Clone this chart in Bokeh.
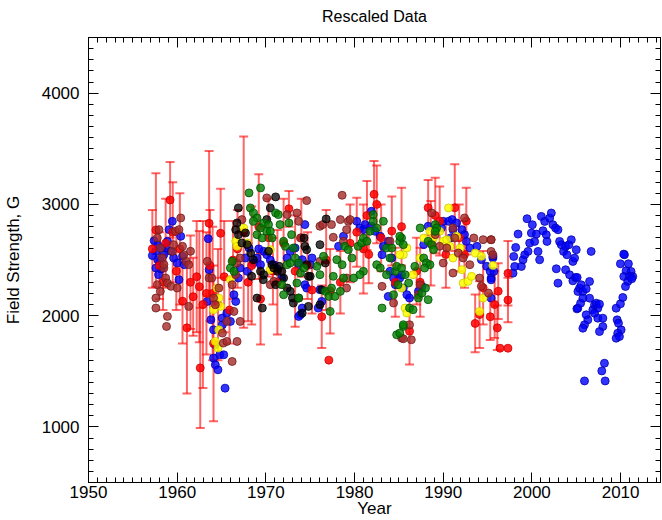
from bokeh.plotting import figure
from bokeh.models import (ColumnDataSource, Whisker, TeeHead, LinearAxis,
                          SingleIntervalTicker, Range1d, CustomJSTickFormatter)
from bokeh.embed import file_html
from bokeh.resources import INLINE

# ---------------- data ----------------
red_year = [1957.2, 1957.6, 1958.0, 1958.4, 1958.7, 1959.2, 1959.5, 1959.9, 1960.3, 1960.6,
            1961.1, 1961.5, 1961.8, 1962.2, 1962.5, 1962.6, 1962.9, 1963.3, 1963.6, 1963.7,
            1964.0, 1964.1, 1964.6, 1964.9, 1965.3, 1965.9, 1966.3, 1966.8, 1967.5, 1968.0,
            1968.4, 1969.2, 1969.4, 1970.3, 1970.8, 1971.3, 1972.0, 1972.6, 1973.3, 1974.0,
            1974.7, 1975.2, 1976.3, 1976.8, 1977.25, 1978.4, 1979.5, 1980.25, 1981.0, 1981.4,
            1981.6, 1982.2, 1982.5, 1983.0, 1984.2, 1984.6, 1985.3, 1986.2, 1987.0, 1987.4,
            1988.3, 1988.6, 1989.1, 1989.6, 1990.3, 1991.3, 1991.8, 1992.4, 1992.6, 1993.6,
            1994.1, 1994.5, 1995.3, 1995.8, 1996.1, 1996.2, 1997.3, 1997.3]
red_val = [2600, 2770, 2450, 2300, 2650, 3040, 2750, 2400, 2600, 2130,
           1890, 2300, 2170, 2350, 2260, 1530, 2100, 2200, 2830, 2450,
           2200, 1750, 2100, 2740, 2350, 2050, 2500, 2600, 2750, 2300,
           2450, 2800, 2150, 2700, 2400, 2300, 2650, 2960, 2400, 2700,
           2450, 2230, 1990, 2500, 2220, 2300, 2650, 2750, 2600, 2900,
           2550, 3090, 3000, 2700, 2760, 2300, 2800, 1860, 2400, 2300,
           2970, 2650, 2900, 2850, 2550, 2970, 2700, 2550, 2850, 1930,
           2010, 2250, 1990, 2100, 1890, 2220, 2380, 2140]
red_err = [350, 510, 300, 250, 400, 340, 450, 350, 500, 380,
           590, 420, 350, 500, 500, 540, 750, 550, 650, 500,
           600, 700, 500, 400, 500, 300, 350, 350, 860, 350,
           530, 470, 410, 350, 300, 470, 400, 160, 500, 350,
           300, 210, 280, 450, 380, 280, 350, 310, 400, 310,
           260, 300, 350, 300, 310, 310, 350, 300, 300, 310,
           250, 380, 340, 310, 300, 390, 300, 300, 300, 260,
           300, 330, 210, 300, 200, 250, 290, 200]
red_single_year = [1977.1, 1996.4, 1997.3]
red_single_val = [1600, 1707, 1707]

blue_year = [1957.4, 1957.8, 1957.6, 1957.6, 1957.9, 1958.1, 1958.5, 1958.7, 1958.9, 1959.1,
             1959.45, 1959.6, 1960.0, 1960.2, 1960.4, 1960.8, 1960.6, 1957.8, 1959.3, 1958.3,
             1957.2, 1958.2, 1963.5, 1963.6, 1963.4, 1963.8, 1964.1, 1964.3, 1964.1, 1964.3,
             1964.6, 1964.8, 1965.1, 1965.4, 1965.25, 1965.07, 1966.0, 1965.6, 1966.6, 1966.4,
             1967.1, 1967.7, 1968.1, 1968.6, 1969.0, 1969.4, 1969.75, 1970.1, 1970.9, 1971.8,
             1972.4, 1972.75, 1973.3, 1973.7, 1974.1, 1974.4, 1974.4, 1974.6, 1974.1, 1973.9,
             1973.7, 1975.0, 1966.9, 1967.9, 1969.2, 1970.5, 1971.3, 1975.2, 1976.1, 1975.9,
             1976.3, 1978.2, 1978.75, 1980.25, 1980.6, 1981.0, 1981.2, 1981.9, 1981.9, 1982.3,
             1982.9, 1983.25, 1983.8, 1984.2, 1984.0, 1984.4, 1984.6, 1983.8, 1985.1, 1985.3,
             1983.1, 1985.5, 1985.9, 1986.2, 1987.2, 1987.6, 1987.8, 1988.3, 1989.8, 1990.0,
             1990.6, 1991.0, 1991.1, 1990.8, 1991.5, 1992.1, 1992.4, 1992.6, 1993.0, 1993.8,
             1994.3, 1994.9, 1995.3, 1995.4, 1995.6, 1995.6, 1995.7, 1995.4, 1995.4,
             1997.87, 1998.06, 1997.95, 1998.17, 1998.44, 1998.81, 1999.0, 1999.19, 1999.45, 1999.56,
             1999.75, 1999.94, 2000.05, 2000.31, 2000.5, 2000.69, 2000.87, 2001.06, 2001.25, 2001.44,
             2001.62, 2001.7, 2002.0, 2002.19, 2002.37, 2002.67, 2002.94, 2002.75, 2003.12, 2003.31,
             2003.57, 2003.8, 2003.95, 2004.17, 2004.44, 2004.62, 2002.94, 2003.8, 2004.25, 2004.62,
             2004.92, 2005.19, 2005.07, 2005.0, 2004.81, 2005.1, 2005.37, 2005.56, 2005.75, 2006.12,
             2006.5, 2006.68, 2005.18, 2005.49, 2005.75, 2006.5, 2006.12, 2006.31, 2005.93, 2005.75,
             2006.87, 2007.06, 2007.25, 2007.43, 2007.62, 2007.06, 2007.43, 2008.0, 2008.0, 2007.62,
             2008.18, 2007.88, 2008.26, 2005.93, 2009.5, 2009.98, 2010.25, 2009.61, 2009.76, 2010.06,
             2009.68, 2009.5, 2009.87, 2010.43, 2010.36, 2009.98, 2010.88, 2010.62, 2011.18, 2010.36,
             2011.0, 2011.37, 2010.81, 2010.55, 2011.26]
blue_val = [2674, 2638, 2578, 2428, 2368, 2488, 2548, 2608, 2668, 2773,
            2848, 2518, 2473, 2323, 2713, 2458, 2533, 2503, 2578, 2608,
            2540, 2420, 2692, 2413, 2128, 1963, 1873, 1738, 1618, 1558,
            1513, 1648, 1918, 1348, 1648, 1978, 1948, 2023, 2128, 2188,
            2428, 2518, 2608, 2473, 2518, 2458, 2578, 2548, 2458, 2338,
            2518, 2578, 2608, 2458, 2503, 2818, 2278, 2248, 2068, 2008,
            1993, 2458, 2338, 2398, 2600, 2500, 2420, 2518, 2233, 2068,
            2128, 2623, 2713, 2848, 2788, 2773, 2818, 2938, 2803, 2758,
            2713, 2623, 2668, 2518, 2398, 2338, 2278, 2173, 2338, 2368,
            2548, 2248, 2188, 2158, 2218, 2263, 2638, 2803, 2788, 2848,
            2848, 2863, 2773, 2698, 2833, 2773, 2728, 2668, 2608, 2623,
            2503, 2443, 2398, 2338, 2518, 2532, 2397, 2322, 2157,
            2382, 2442, 2532, 2613, 2733, 2442, 2502, 2547, 2871, 2577,
            2652, 2742, 2817, 2667, 2733, 2577, 2502, 2892, 2763, 2847,
            2727, 2667, 2877, 2922, 2817, 2787, 2772, 2421, 2667, 2637,
            2577, 2622, 2547, 2637, 2682, 2487, 2292, 2412, 2367, 2313,
            2343, 2217, 2061, 2592, 2517, 2343, 2247, 2277, 2217, 2241,
            2307, 2577, 2067, 2112, 2157, 2157, 2007, 1962, 1917, 1887,
            2052, 2097, 2112, 2067, 2103, 2022, 1977, 1977, 1902, 1857,
            1572, 1503, 1413, 1413, 2067, 2106, 2163, 1962, 1932, 1872,
            1842, 1797, 1812, 2547, 2553, 2466, 2466, 2403, 2397, 2352,
            2352, 2352, 2307, 2262, 2331]

brown_year = [1957.76, 1957.95, 1958.1, 1958.3, 1958.5, 1958.7, 1958.9, 1958.9, 1958.8, 1957.6,
              1957.6, 1957.76, 1958.1, 1959.3, 1959.45, 1959.6, 1959.8, 1960.2, 1960.4, 1960.6,
              1960.75, 1961.0, 1961.3, 1961.5, 1961.3, 1963.4, 1963.6, 1963.9, 1964.1, 1964.3,
              1964.7, 1965.1, 1965.2, 1960.0, 1958.5, 1965.6, 1965.6, 1966.75, 1966.2, 1966.4,
              1966.2, 1966.6, 1966.75, 1967.1, 1967.3, 1970.1, 1972.4, 1973.5, 1973.7, 1974.6,
              1970.5, 1970.9, 1967.1, 1973.9, 1978.6, 1976.1, 1976.4, 1977.4, 1977.6, 1978.4,
              1979.1, 1979.3, 1979.5, 1978.75, 1979.1, 1976.1, 1984.0, 1983.1, 1984.4, 1985.3,
              1979.1, 1985.5, 1986.4, 1986.2, 1987.4, 1987.2, 1988.7, 1989.1, 1989.6, 1990.4,
              1991.1, 1991.3, 1991.7, 1992.4, 1992.25, 1993.0, 1993.45, 1994.5, 1995.4, 1994.1,
              1994.3, 1995.1, 1991.1, 1990.0, 1995.4, 1995.4, 1995.6]
brown_val = [2698, 2773, 2608, 2518, 2428, 2338, 2293, 1993, 1903, 2068,
             2158, 2278, 2218, 2263, 2578, 2638, 2758, 2773, 2878, 2623,
             2548, 2488, 2458, 2578, 2083, 2488, 2338, 2338, 2158, 2098,
             2248, 1843, 1753, 2248, 2460, 1948, 1768, 1768, 1588, 2038,
             2278, 2368, 2473, 2518, 2863, 3058, 2908, 2923, 2848, 3034,
             2278, 2308, 1948, 2698, 3082, 2803, 2818, 2818, 2704, 2863,
             2773, 2848, 2863, 2668, 2338, 2488, 2668, 2263, 2113, 1798,
             2248, 1792, 1783, 1918, 2278, 2188, 2923, 2728, 2623, 2608,
             2788, 2698, 2563, 2878, 2518, 2458, 2698, 2683, 2683, 2338,
             2263, 2203, 2383, 2473, 2682, 2577, 2547]

black_year = [1966.9, 1966.75, 1966.6, 1966.9, 1967.7, 1967.9, 1968.3, 1968.6, 1968.4, 1969.0,
              1969.6, 1969.75, 1970.1, 1970.3, 1970.5, 1971.1, 1970.7, 1970.9, 1971.3, 1971.5,
              1971.8, 1972.0, 1972.4, 1972.75, 1973.0, 1973.1, 1973.7, 1974.3, 1974.4, 1974.6,
              1974.8, 1974.6, 1974.8, 1974.1, 1969.4, 1969.7, 1971.1, 1967.3, 1976.8, 1976.1,
              1976.7, 1976.3, 1976.1, 1975.0]
black_val = [2968, 2833, 2773, 2728, 2743, 2638, 2563, 2503, 2353, 2158,
             2068, 2368, 2863, 2578, 2968, 3067, 2458, 2428, 2398, 2443,
             2398, 2338, 2248, 2218, 2158, 2113, 2158, 2698, 2623, 2593,
             2353, 2458, 2083, 2023, 2398, 2323, 2278, 2653, 2869, 2638,
             2473, 2233, 2098, 2353]

green_year = [1968.1, 1969.4, 1968.25, 1968.6, 1969.0, 1968.6, 1969.4, 1969.75, 1970.3, 1970.1,
              1970.5, 1970.7, 1971.1, 1971.4, 1971.6, 1972.0, 1972.2, 1972.6, 1972.9, 1973.1,
              1972.4, 1972.75, 1973.3, 1973.7, 1973.9, 1974.3, 1973.5, 1973.7, 1971.8, 1972.0,
              1966.0, 1966.2, 1966.4, 1969.0, 1969.6, 1975.75, 1976.1, 1976.5, 1976.7, 1977.1,
              1977.25, 1977.4, 1977.8, 1978.4, 1977.6, 1978.0, 1978.6, 1978.75, 1978.9, 1979.3,
              1979.7, 1979.9, 1980.4, 1980.8, 1981.0, 1981.4, 1981.75, 1982.1, 1982.1, 1982.5,
              1981.0, 1980.6, 1982.5, 1982.9, 1983.25, 1983.6, 1984.0, 1984.2, 1984.6, 1984.75,
              1984.9, 1985.1, 1985.3, 1983.1, 1984.75, 1985.5, 1983.6, 1984.4, 1985.1, 1985.5,
              1985.3, 1985.7, 1986.1, 1986.2, 1986.6, 1987.2, 1987.6, 1988.0, 1988.3, 1987.4,
              1987.8, 1988.1, 1988.5, 1988.3, 1988.7, 1988.9, 1989.1, 1989.25, 1989.1, 1985.5,
              1985.1, 1986.8, 1987.9]
green_val = [3103, 3148, 2968, 2923, 2878, 2848, 2788, 2833, 2818, 2758,
             2758, 2698, 2923, 2908, 2818, 2668, 2623, 2833, 2728, 2608,
             2458, 2473, 2518, 2473, 2383, 2428, 2293, 2158, 2278, 2188,
             2428, 2488, 2398, 2728, 2698, 2443, 2368, 2533, 2218, 2173,
             2038, 2248, 2173, 2218, 2353, 2503, 2458, 2338, 2623, 2593,
             2518, 2338, 2623, 2653, 2698, 2668, 2758, 2848, 2908, 2788,
             2398, 2368, 2458, 2428, 2848, 2608, 2518, 2608, 2398, 2443,
             2278, 2668, 2698, 2068, 1828, 1903, 2368, 2188, 2713, 2638,
             2428, 2368, 2293, 2068, 2053, 2158, 2203, 2248, 2143, 2788,
             2518, 2473, 2458, 2668, 2638, 2593, 2818, 2788, 2758, 1918,
             1843, 2443, 2428]

yellow_year = [1964.1, 1964.5, 1964.7, 1964.9, 1964.7, 1964.6, 1964.3, 1966.6, 1966.75, 1967.5,
               1967.9, 1970.5, 1970.5, 1966.0, 1985.5, 1985.7, 1985.1, 1985.9, 1985.3, 1985.9,
               1986.6, 1987.4, 1987.8, 1988.5, 1988.9, 1989.6, 1990.0, 1990.4, 1990.6, 1990.75,
               1991.1, 1991.5, 1992.1, 1992.25, 1992.8, 1993.2, 1993.6, 1994.3, 1994.5, 1994.1,
               1991.9, 1995.6]
yellow_val = [2053, 2248, 2158, 2083, 1873, 1708, 1768, 2668, 2623, 2788,
              2653, 2413, 2593, 2323, 2548, 2068, 2548, 2608, 2248, 2023,
              2368, 2518, 2698, 2758, 2698, 2758, 2668, 2683, 2968, 2623,
              2518, 2713, 2413, 2293, 2308, 2353, 2563, 2533, 2158, 2038,
              2608, 2451]

x_ticks_interval = 10
y_ticks_interval = 1000

# ---------------- figure ----------------
FONT = "Liberation Sans"
p = figure(width=662, height=520, output_backend="svg", toolbar_location=None,
           x_range=Range1d(1950, 2014.5), y_range=Range1d(500, 4500),
           min_border_left=88, min_border_right=2, min_border_top=0, min_border_bottom=0,
           title="Rescaled Data")
p.background_fill_color = "white"
p.border_fill_color = "white"
p.outline_line_color = "black"
p.xgrid.visible = False
p.ygrid.visible = False
p.title.text_font = FONT
p.title.text_font_size = "16px"
p.title.text_font_style = "normal"
p.title.text_color = "black"
p.title.align = "center"
p.title.standoff = 10
p.title.offset = 0

def style_axis(ax, show_labels):
    ax.axis_line_color = "black"
    ax.major_tick_line_color = "black"
    ax.minor_tick_line_color = "black"
    ax.major_tick_in = 10
    ax.major_tick_out = 0
    ax.minor_tick_in = 5
    ax.minor_tick_out = 0
    ax.major_label_text_font = FONT
    ax.major_label_text_color = "black"
    ax.major_label_text_font_size = "17px"
    if not show_labels:
        ax.formatter = CustomJSTickFormatter(code="return ''")
        ax.major_label_standoff = 0

p.xaxis.ticker = SingleIntervalTicker(interval=x_ticks_interval, num_minor_ticks=10)
p.yaxis.ticker = SingleIntervalTicker(interval=y_ticks_interval, num_minor_ticks=10)
for ax in p.xaxis:
    style_axis(ax, True)
    ax.major_label_standoff = 3
    ax.axis_label = "Year"
    ax.axis_label_standoff = -2
for ax in p.yaxis:
    style_axis(ax, True)
    ax.major_label_standoff = 9
    ax.axis_label = "Field Strength, G"
    ax.axis_label_standoff = 16
for ax in list(p.xaxis) + list(p.yaxis):
    ax.axis_label_text_font = FONT
    ax.axis_label_text_font_size = "17px"
    ax.axis_label_text_font_style = "normal"
    ax.axis_label_text_color = "black"

top_ax = LinearAxis(ticker=SingleIntervalTicker(interval=x_ticks_interval, num_minor_ticks=10))
style_axis(top_ax, False)
p.add_layout(top_ax, "above")
# invisible spacer between the title and the top frame edge
spacer = LinearAxis(ticker=SingleIntervalTicker(interval=x_ticks_interval, num_minor_ticks=0),
                    formatter=CustomJSTickFormatter(code="return ''"),
                    major_label_standoff=0, major_tick_in=0, major_tick_out=8,
                    minor_tick_in=0, minor_tick_out=0,
                    major_tick_line_color=None, minor_tick_line_color=None,
                    axis_line_color=None)
p.add_layout(spacer, "above")
right_ax = LinearAxis(ticker=SingleIntervalTicker(interval=y_ticks_interval, num_minor_ticks=10))
style_axis(right_ax, False)
p.add_layout(right_ax, "right")

# ---------------- glyphs ----------------
SIZE = 8
red_src = ColumnDataSource(dict(x=red_year, y=red_val,
                                lo=[v - e for v, e in zip(red_val, red_err)],
                                hi=[v + e for v, e in zip(red_val, red_err)]))
whisk = Whisker(source=red_src, base="x", upper="hi", lower="lo", dimension="height",
                line_color="red", line_alpha=0.6, line_width=2,
                upper_head=TeeHead(size=9, line_color="red", line_alpha=0.6, line_width=2),
                lower_head=TeeHead(size=9, line_color="red", line_alpha=0.6, line_width=2))
p.add_layout(whisk)

def dots(xs, ys, color, rim, alpha=0.8):
    p.scatter(xs, ys, marker="circle", size=SIZE, fill_color=color, fill_alpha=alpha,
              line_color=rim, line_alpha=0.8, line_width=1)

dots(blue_year, blue_val, "#0000ff", "#0000b0")
p.scatter("x", "y", source=red_src, marker="circle", size=SIZE, fill_color="#ff0000",
          fill_alpha=0.85, line_color="#d00000", line_alpha=0.8)
dots(red_single_year, red_single_val, "#ff0000", "#d00000", 0.85)
dots(yellow_year, yellow_val, "#ffff00", "#c8c800", 0.85)
dots(brown_year, brown_val, "#a52a2a", "#701c1c", 0.8)
dots(black_year, black_val, "#000000", "#000000", 0.75)
dots(green_year, green_val, "#008000", "#005000", 0.8)

open("out.html", "w").write(file_html(p, INLINE))
